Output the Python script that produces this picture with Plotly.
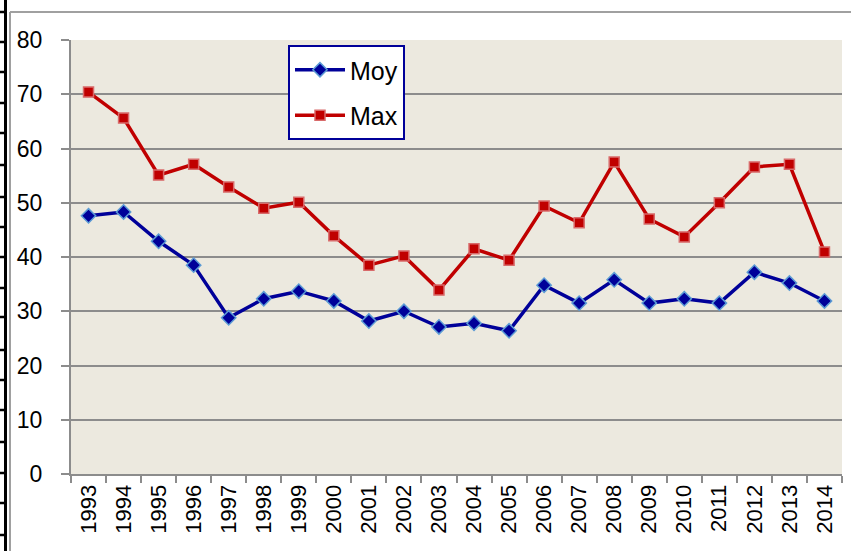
import plotly.graph_objects as go

years = [str(y) for y in range(1993, 2015)]
moy = [47.6, 48.3, 42.9, 38.5, 28.8, 32.3, 33.7, 31.9, 28.2, 30.0, 27.1,
       27.8, 26.4, 34.8, 31.5, 35.8, 31.5, 32.3, 31.5, 37.2, 35.2, 31.9]
maxv = [70.4, 65.6, 55.1, 57.1, 52.9, 49.0, 50.1, 43.9, 38.5, 40.2, 33.9,
        41.5, 39.4, 49.4, 46.3, 57.5, 47.0, 43.7, 50.0, 56.6, 57.1, 40.9]
y_ticks = [0, 10, 20, 30, 40, 50, 60, 70, 80]

W, H = 851, 551
L, R, T, B = 71, 9, 40, 77
PW, PH = W - L - R, H - T - B

def px(x):
    return (x - L) / PW

def py(y):
    return (H - B - y) / PH

FONT = "Liberation Sans Narrow, Arial Narrow, Liberation Sans, Arial"

fig = go.Figure()
fig.add_trace(go.Scatter(
    x=years, y=moy, name="Moy", mode="lines+markers", legendgroup="a",
    line=dict(color="#000099", width=3.5),
    marker=dict(symbol="diamond", size=11, color="#000099",
                line=dict(color="#5B9BD5", width=1.5)),
))
fig.add_trace(go.Scatter(
    x=years, y=maxv, name="Max", mode="lines+markers", legendgroup="b",
    line=dict(color="#C00000", width=3.5),
    marker=dict(symbol="square", size=10, color="#C00000",
                line=dict(color="#D86A6A", width=1.5)),
))

shapes = []
# chart area border (gray)
shapes.append(dict(type="line", xref="paper", yref="paper",
                   x0=px(10), x1=px(10), y0=py(12), y1=py(H),
                   line=dict(color="#A0A0A0", width=2)))
shapes.append(dict(type="line", xref="paper", yref="paper",
                   x0=px(10), x1=px(W), y0=py(12), y1=py(12),
                   line=dict(color="#A0A0A0", width=2)))
# black page border with ticks
shapes.append(dict(type="line", xref="paper", yref="paper",
                   x0=px(5.5), x1=px(5.5), y0=py(0), y1=py(H),
                   line=dict(color="black", width=3)))
for ty in [12, 42, 72, 103, 133, 165, 197, 227, 257, 288, 317, 350, 380,
           410, 442, 473, 503, 535]:
    shapes.append(dict(type="line", xref="paper", yref="paper",
                       x0=px(0), x1=px(5.5), y0=py(ty), y1=py(ty),
                       line=dict(color="black", width=2.5)))

fig.update_layout(
    width=W, height=H,
    margin=dict(l=L, r=R, t=T, b=B, pad=0),
    paper_bgcolor="white",
    plot_bgcolor="#ECE9DF",
    font=dict(family=FONT, color="black", size=22),
    showlegend=True,
    legend=dict(
        x=px(288), y=py(45), xanchor="left", yanchor="top",
        bgcolor="white", bordercolor="#000099", borderwidth=2,
        font=dict(family=FONT, size=25, color="black"),
        itemwidth=50, tracegroupgap=10,
    ),
    shapes=shapes,
    xaxis=dict(
        type="category", tickangle=-90, tickson="boundaries",
        ticks="outside", ticklen=7, tickcolor="#8C8C8C", tickwidth=2,
        showline=True, linecolor="#8C8C8C", linewidth=2,
        showgrid=False, tickfont=dict(family=FONT, size=22),
        range=[-0.5, len(years) - 0.5],
    ),
    yaxis=dict(
        range=[0, 80], tickvals=y_ticks, ticks="outside", ticklen=8,
        tickcolor="#8C8C8C", tickwidth=2,
        showline=True, linecolor="#8C8C8C", linewidth=2,
        showgrid=True, gridcolor="#8C8C8C", gridwidth=2,
        zeroline=False, tickfont=dict(family=FONT, size=23),
        ticklabelstandoff=14,
    ),
)

fig.write_html(
    "out.html",
    config={"displayModeBar": False},
    post_script="document.body.style.margin='0';document.body.style.overflow='hidden';",
)
